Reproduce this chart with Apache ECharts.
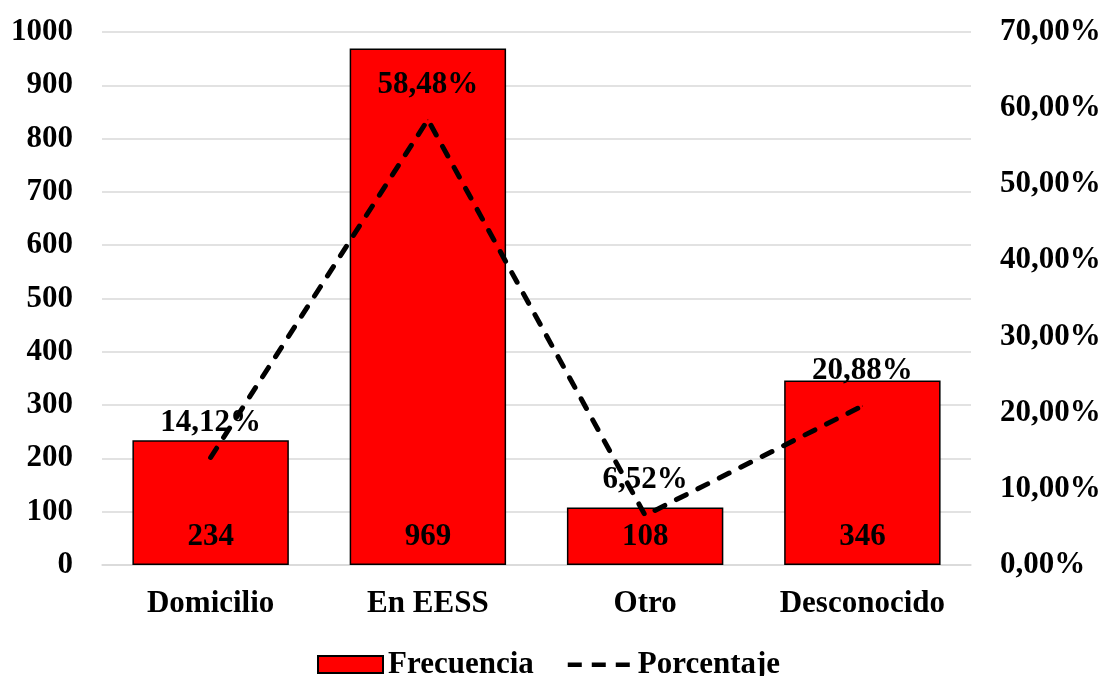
<!DOCTYPE html>
<html>
<head>
<meta charset="utf-8">
<script src="https://cdn.jsdelivr.net/npm/echarts@6/dist/echarts.min.js"></script>
<style>html,body{margin:0;padding:0;background:#fff}#c{width:1106px;height:676px}</style>
</head>
<body>
<div id="c"></div>
<script>
const categories = ['Domicilio', 'En EESS', 'Otro', 'Desconocido'];
const frecuencia = [234, 969, 108, 346];
const porcentaje = [14.12, 58.48, 6.52, 20.88];
const leftTicks = { min: 0, max: 1000, interval: 100 };
const rightTicks = { min: 0, max: 70, interval: 10 };

const FONT = '"Liberation Serif", "Times New Roman", serif';
const fmtPct = v => Number(v).toFixed(2).replace('.', ',') + '%';
const txt = { fontFamily: FONT, fontWeight: 'bold', fontSize: 31, color: '#000' };
const dashIcon = 'path://M0,0 M65,17 M0,6.5h14v4.5h-14z M24,6.5h14v4.5h-14z M48,6.5h14v4.5h-14z';

const chart = echarts.init(document.getElementById('c'), null, { renderer: 'canvas' });
chart.setOption({
  animation: false,
  backgroundColor: '#fff',
  textStyle: { fontFamily: FONT },
  grid: { left: 102, right: 135, top: 32, bottom: 111, containLabel: false },
  legend: {
    top: 644,
    left: 312,
    itemWidth: 65,
    itemHeight: 17,
    itemGap: 34,
    textStyle: Object.assign({}, txt),
    data: [
      { name: 'Frecuencia', icon: 'rect', itemStyle: { color: '#ff0000', borderColor: '#000', borderWidth: 2 } },
      { name: 'Porcentaje', icon: dashIcon, itemStyle: { color: '#000', borderWidth: 0 } }
    ]
  },
  xAxis: {
    type: 'category',
    data: categories,
    axisTick: { show: false },
    axisLine: { show: true, lineStyle: { color: '#d9d9d9', width: 1.5 } },
    axisLabel: Object.assign({ margin: 23 }, txt)
  },
  yAxis: [
    {
      type: 'value',
      min: leftTicks.min, max: leftTicks.max, interval: leftTicks.interval,
      axisLine: { show: false },
      axisTick: { show: false },
      splitLine: { lineStyle: { color: '#d9d9d9', width: 1.5 } },
      axisLabel: Object.assign({ margin: 29, formatter: v => String(v) }, txt)
    },
    {
      type: 'value',
      min: rightTicks.min, max: rightTicks.max, interval: rightTicks.interval,
      axisLine: { show: false },
      axisTick: { show: false },
      splitLine: { show: false },
      axisLabel: Object.assign({ margin: 29, formatter: fmtPct }, txt)
    }
  ],
  series: [
    {
      name: 'Frecuencia',
      type: 'bar',
      data: frecuencia,
      barWidth: '72%',
      itemStyle: { color: '#ff0000', borderColor: '#000', borderWidth: 1.5 },
      label: Object.assign({ show: true, position: 'insideBottom', distance: 13 }, txt)
    },
    {
      name: 'Porcentaje',
      type: 'line',
      yAxisIndex: 1,
      data: porcentaje,
      symbol: 'circle',
      symbolSize: 1,
      showSymbol: true,
      lineStyle: { color: '#000', width: 5, type: [11, 13], cap: 'round' },
      itemStyle: { color: '#000' },
      label: Object.assign({ show: true, position: 'top', distance: 19, formatter: p => fmtPct(p.value) }, txt),
      z: 5
    }
  ]
});
</script>
</body>
</html>
